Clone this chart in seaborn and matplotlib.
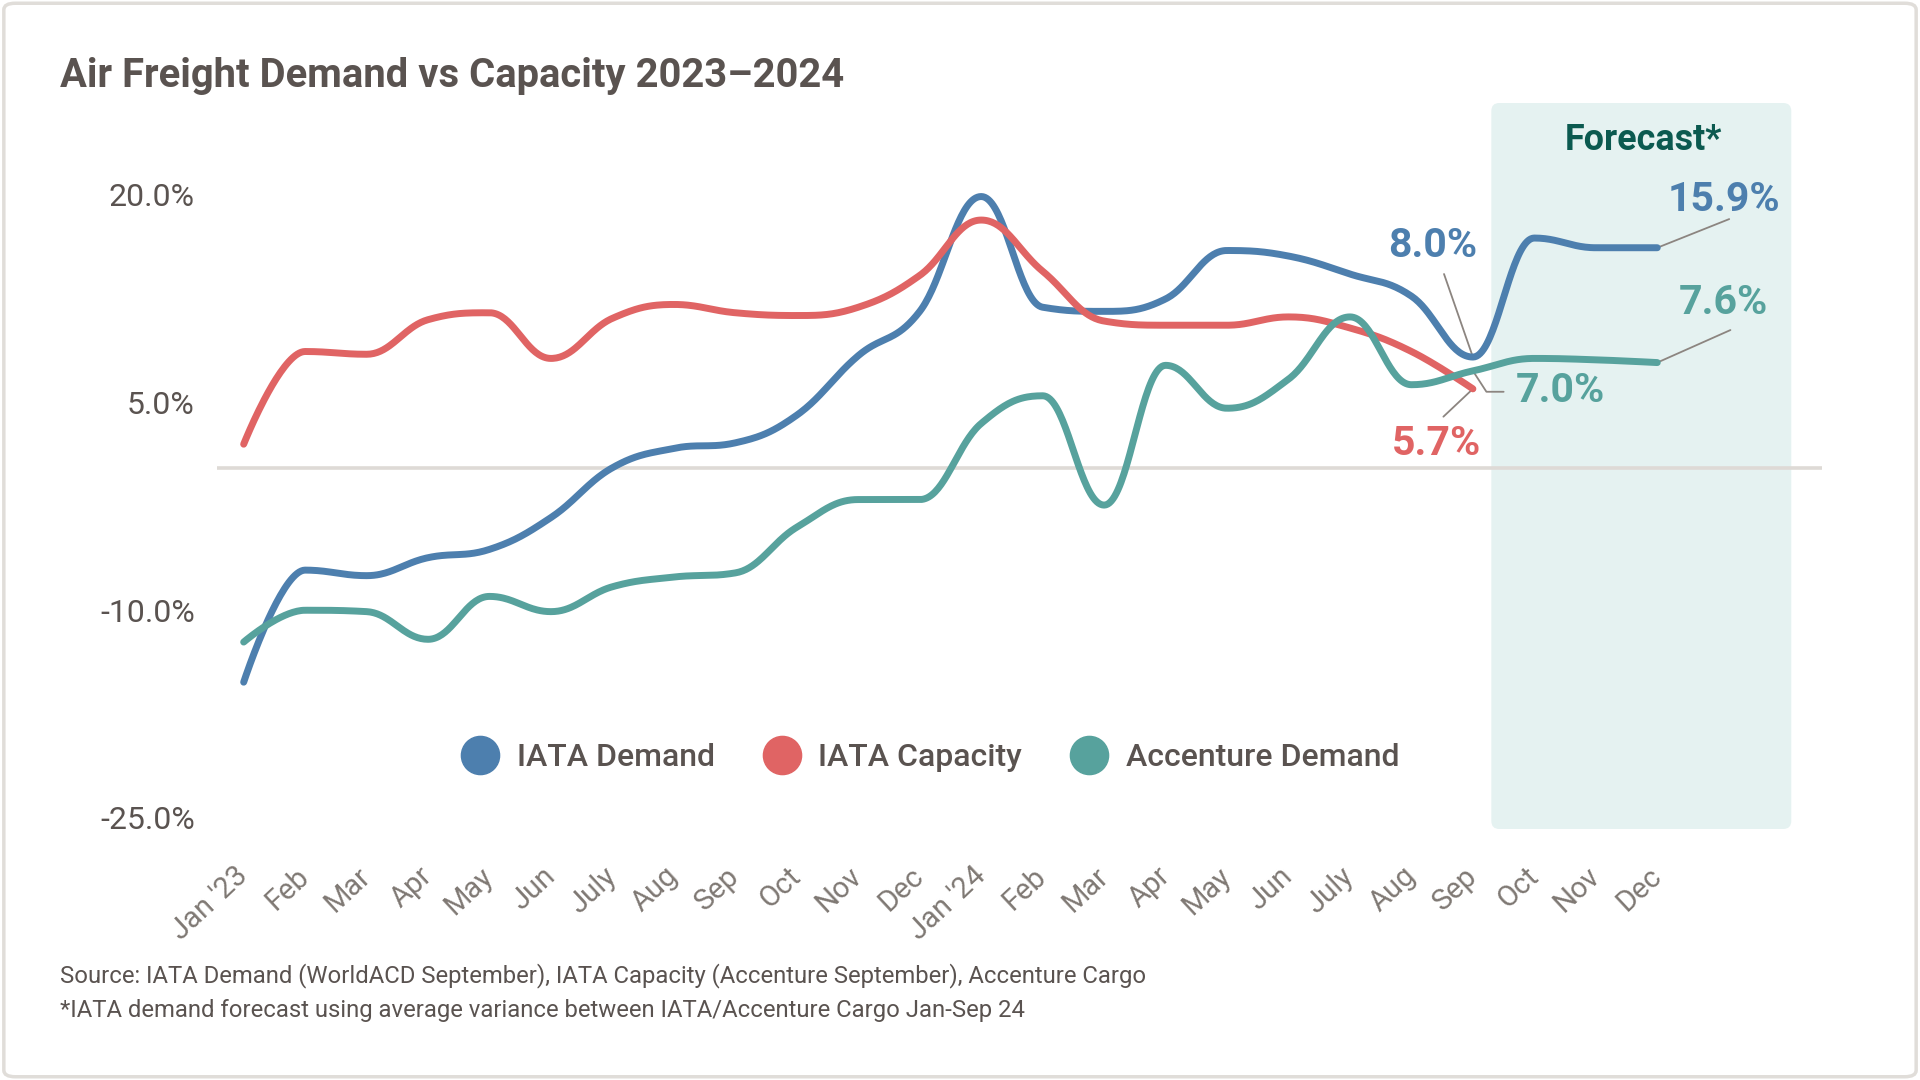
import numpy as np
import matplotlib
matplotlib.use("Agg")
import matplotlib.pyplot as plt
import matplotlib.transforms as mtransforms
from matplotlib.lines import Line2D
from matplotlib.patches import FancyBboxPatch
import seaborn as sns

# Data (monthly % change, Jan 2023 - Dec 2024)
months = ["Jan '23", "Feb", "Mar", "Apr", "May", "Jun", "July", "Aug", "Sep", "Oct", "Nov", "Dec",
          "Jan '24", "Feb", "Mar", "Apr", "May", "Jun", "July", "Aug", "Sep", "Oct", "Nov", "Dec"]
iata_demand = [-15.5, -7.4, -7.8, -6.5, -5.9, -3.6, 0.0, 1.4, 1.8, 3.8, 8.1, 11.3,
               19.6, 11.6, 11.3, 12.2, 15.7, 15.3, 14.0, 12.4, 8.0, 16.6, 15.9, 15.9]
iata_capacity = [1.7, 8.4, 8.2, 10.7, 11.2, 7.9, 10.8, 11.8, 11.2, 11.0, 11.6, 13.9,
                 17.9, 14.2, 10.6, 10.3, 10.3, 10.9, 10.1, 8.4, 5.7]
accenture_demand = [-12.6, -10.3, -10.4, -12.4, -9.3, -10.4, -8.6, -7.9, -7.6, -4.3, -2.3, -2.3,
                    3.2, 5.2, -2.7, 7.4, 4.3, 6.4, 10.9, 6.0, 7.0, 7.9, 7.8, 7.6]
series_names = ["IATA Demand", "IATA Capacity", "Accenture Demand"]
forecast_start = 20.3
forecast_end = 25.18

BLUE = "#4d7fae"
RED = "#e06464"
TEAL = "#57a29d"
TEXT = "#5a5350"
LABEL_GRAY = "#7f7873"
LEADER = "#8c8580"


def spline(xs, ys, n=40):
    # Highcharts-style spline path through the points
    pts = list(zip(xs, ys))
    m = len(pts)
    lc, rc = [None] * m, [None] * m
    for i, (x, y) in enumerate(pts):
        if 0 < i < m - 1:
            lx, ly = pts[i - 1]
            nx, ny = pts[i + 1]
            lcx, lcy = (1.5 * x + lx) / 2.5, (1.5 * y + ly) / 2.5
            rcx, rcy = (1.5 * x + nx) / 2.5, (1.5 * y + ny) / 2.5
            corr = (rcy - lcy) * (rcx - x) / (rcx - lcx) + y - rcy
            lcy += corr
            rcy += corr
            if lcy > ly and lcy > y:
                lcy = max(ly, y); rcy = 2 * y - lcy
            elif lcy < ly and lcy < y:
                lcy = min(ly, y); rcy = 2 * y - lcy
            if rcy > ny and rcy > y:
                rcy = max(ny, y); lcy = 2 * y - rcy
            elif rcy < ny and rcy < y:
                rcy = min(ny, y); lcy = 2 * y - rcy
            lc[i], rc[i] = (lcx, lcy), (rcx, rcy)
        else:
            lc[i] = rc[i] = (x, y)
    t = np.linspace(0, 1, n)[:, None]
    out = [np.array([pts[0]])]
    for i in range(1, m):
        p0, p1, p2, p3 = (np.array(p) for p in (pts[i - 1], rc[i - 1], lc[i], pts[i]))
        seg = ((1 - t) ** 3) * p0 + 3 * ((1 - t) ** 2) * t * p1 + 3 * (1 - t) * t ** 2 * p2 + t ** 3 * p3
        out.append(seg[1:])
    out = np.vstack(out)
    return out[:, 0], out[:, 1]


sns.set_theme(style="white")
plt.rcParams["font.family"] = ["Roboto", "DejaVu Sans"]

fig = plt.figure(figsize=(19.2, 10.8), dpi=100)
ax = fig.add_axes([217 / 1920, 1 - 829 / 1080, (1822 - 217) / 1920, (829 - 103) / 1080])
ax.set_xlim(-0.434, 25.68)
ax.set_ylim(-26.11, 26.36)

# outer card border
fig.patches.append(FancyBboxPatch((0.002, 0.003), 0.996, 0.994, boxstyle="round,pad=0,rounding_size=0.006",
                                  transform=fig.transFigure, facecolor="none", edgecolor="#e0ddd9",
                                  linewidth=2.5, zorder=0))

# forecast band
y0, y1 = ax.get_ylim()
ax.add_patch(FancyBboxPatch((forecast_start, y0), forecast_end - forecast_start, y1 - y0,
                            boxstyle="round,pad=0,rounding_size=0.13", mutation_aspect=61.47 / 13.836,
                            facecolor="#e5f2f1", edgecolor="none", zorder=0))
ax.text((forecast_start + forecast_end) / 2 + 0.03, 23.7, "Forecast*", ha="center", va="center",
        fontsize=25.8, fontweight="bold", color="#0b5a50")

ax.axhline(0, color="#dedad6", linewidth=2.6, zorder=1)

for vals, color in zip([iata_demand, iata_capacity, accenture_demand], [BLUE, RED, TEAL]):
    sx, sy = spline(np.arange(len(vals)), vals)
    sns.lineplot(x=sx, y=sy, ax=ax, color=color, linewidth=5.0, sort=False,
                 solid_capstyle="round", zorder=3)

# end labels with leader lines
lead = dict(color=LEADER, linewidth=1.3, zorder=2)
lab = dict(fontsize=29.5, fontweight="bold", va="center")
ax.plot([20, 19.53], [iata_demand[20], 14.0], **lead)
ax.text(19.35, 16.05, f"{iata_demand[20]:.1f}%", color=BLUE, ha="center", **lab)
ax.plot([20, 20.22, 20.50], [accenture_demand[20], 5.49, 5.49], **lead)
ax.text(20.70, 5.57, f"{accenture_demand[20]:.1f}%", color=TEAL, ha="left", **lab)
ax.plot([20, 19.52], [iata_capacity[20], 3.69], **lead)
ax.text(19.40, 1.73, f"{iata_capacity[20]:.1f}%", color=RED, ha="center", **lab)
ax.plot([23, 24.17], [iata_demand[23], 17.97], **lead)
ax.text(24.08, 19.38, f"{iata_demand[23]:.1f}%", color=BLUE, ha="center", **lab)
ax.plot([23, 24.19], [accenture_demand[23], 9.95], **lead)
ax.text(24.08, 11.94, f"{accenture_demand[23]:.1f}%", color=TEAL, ha="center", **lab)

# axes styling
for s in ax.spines.values():
    s.set_visible(False)
ax.set_facecolor("none")
ax.grid(False)
ax.set_yticks([20, 5, -10, -25])
ax.set_yticklabels([f"{v:.1f}%" for v in [20, 5, -10, -25]])
ax.tick_params(axis="y", length=0, pad=16, labelsize=23, labelcolor=TEXT)
offset = mtransforms.ScaledTranslation(0, -0.04, fig.dpi_scale_trans)
for t in ax.get_yticklabels():
    t.set_transform(t.get_transform() + offset)

ax.set_xticks(range(len(months)))
ax.set_xticklabels(months, rotation=43, ha="right", va="center", rotation_mode="anchor")
ax.tick_params(axis="x", length=0, pad=31, labelsize=21, labelcolor=LABEL_GRAY)
ax.set_xlabel("")
ax.set_ylabel("")

# legend
handles = [Line2D([], [], marker="o", linestyle="", markersize=27.5, color=c) for c in [BLUE, RED, TEAL]]
fig.legend(handles, series_names, loc="center", bbox_to_anchor=(0.4844, 0.2984), ncol=3, frameon=False,
           prop={"size": 23, "weight": "medium"}, labelcolor=TEXT, handlelength=1.2,
           handletextpad=0.55, columnspacing=1.5, borderpad=0, borderaxespad=0)

fig.text(60 / 1920, 1 - 76 / 1080, "Air Freight Demand vs Capacity 2023\u20132024", fontsize=28.8,
         fontweight="bold", color=TEXT, ha="left", va="center")
fig.text(60 / 1920, 1 - 976 / 1080,
         "Source: IATA Demand (WorldACD September), IATA Capacity (Accenture September), Accenture Cargo",
         fontsize=17.2, color=TEXT, ha="left", va="center")
fig.text(60 / 1920, 1 - 1011 / 1080,
         "*IATA demand forecast using average variance between IATA/Accenture Cargo Jan-Sep 24",
         fontsize=17.2, color=TEXT, ha="left", va="center")

fig.savefig("out.png", dpi=100, facecolor="white")
